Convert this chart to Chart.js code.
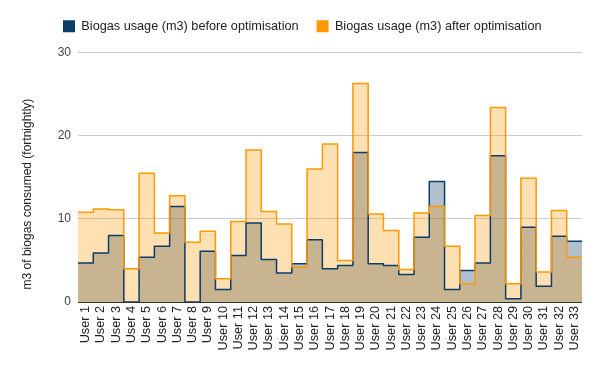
<!doctype html>
<html>
  <head>
    <script src="https://cdn.jsdelivr.net/npm/chart.js@4.4.0/dist/chart.umd.min.js"></script>
    <style>
      body { margin: 0; background: #fff; }
      #wrap { width: 600px; height: 371px; }
    </style>
  </head>
  <body>
    <div id="wrap"><canvas id="BiogasChart" width="600" height="371"></canvas></div>
    <script>
    // values (m3, fortnightly)
    var users = [];
    for (var n = 1; n <= 33; n++) users.push('User ' + n);

    var beforeOpt = [4.7, 5.9, 8.0, 0, 5.4, 6.7, 11.5, 0, 6.1, 1.5, 5.6, 9.5, 5.1, 3.5, 4.6, 7.5, 4.0,
                     4.4, 18.0, 4.6, 4.4, 3.3, 7.8, 14.5, 1.5, 3.8, 4.7, 17.6, 0.4, 9.0, 1.9, 7.9, 7.3];
    var afterOpt = [10.8, 11.2, 11.1, 4.0, 15.5, 8.3, 12.8, 7.2, 8.5, 2.8, 9.7, 18.3, 10.9, 9.4, 4.2, 16.0, 19.0,
                    5.0, 26.3, 10.6, 8.6, 3.9, 10.7, 11.5, 6.7, 2.2, 10.4, 23.4, 2.2, 14.9, 3.6, 11.0, 5.4];
    var yTicks = [0, 10, 20, 30];

    var seriesNames = ['Biogas usage (m3) before optimisation', 'Biogas usage (m3) after optimisation'];
    var solid = ['#0c3c67', '#ff9900'];

    // each user gets a whole step: point i starts the step, one extra point closes the last one
    function steps(vals) {
      var pts = vals.map(function(v, i){ return {x: i, y: v}; });
      pts.push({x: vals.length, y: vals[vals.length - 1]});
      return pts;
    }

    var FONT = 'Arial, "Liberation Sans", sans-serif';

    // legend sits a bit right of the canvas edge and leaves more room above the plot
    var legendTweak = {
      id: 'legendTweak',
      afterInit: function(chart) {
        var lg = chart.legend;
        var fit = lg.fit;
        lg.fit = function() {
          fit.call(this);
          this.height += 10;
        };
      },
      beforeDraw: function(chart) {
        chart.legend.left = 45;
      }
    };

    var ctx = document.getElementById('BiogasChart');
    var myChart = new Chart(ctx, {
      type: 'line',
      data: {
        datasets: [{
          label: seriesNames[0],
          data: steps(beforeOpt),
          borderColor: solid[0],
          backgroundColor: 'rgba(12,60,103,0.32)',
          borderWidth: 1.5,
          fill: 'origin',
          stepped: true,
          pointRadius: 0,
          borderJoinStyle: 'round',
          order: 1
        }, {
          label: seriesNames[1],
          data: steps(afterOpt),
          borderColor: solid[1],
          backgroundColor: 'rgba(255,153,0,0.3)',
          borderWidth: 1.5,
          fill: 'origin',
          stepped: true,
          pointRadius: 0,
          borderJoinStyle: 'round',
          order: 0
        }]
      },
      options: {
        responsive: false,
        animation: false,
        layout: { padding: { left: 0, right: 18, top: 2, bottom: 0 } },
        plugins: {
          filler: { drawTime: 'beforeDatasetsDraw' },
          tooltip: { enabled: false },
          legend: {
            position: 'top',
            align: 'start',
            labels: {
              boxWidth: 12,
              boxHeight: 12,
              padding: 18,
              color: '#222',
              font: { family: FONT, size: 12.7 },
              sort: function(a, b){ return a.datasetIndex - b.datasetIndex; },
              generateLabels: function(chart) {
                var items = Chart.defaults.plugins.legend.labels.generateLabels(chart);
                items.forEach(function(it){
                  it.fillStyle = solid[it.datasetIndex];
                  it.strokeStyle = solid[it.datasetIndex];
                  it.lineWidth = 0;
                });
                return items;
              }
            }
          }
        },
        scales: {
          x: {
            type: 'linear',
            min: 0,
            max: users.length,
            grid: { display: false, drawTicks: false },
            border: { display: false },
            afterFit: function(s){ s.height = 69; },
            afterBuildTicks: function(axis) {
              axis.ticks = users.map(function(u, i){ return {value: i + 0.5}; });
            },
            ticks: {
              autoSkip: false,
              minRotation: 90,
              maxRotation: 90,
              padding: 4,
              color: '#222',
              font: { family: FONT, size: 12.7 },
              callback: function(value) { return users[Math.round(value - 0.5)]; }
            }
          },
          y: {
            min: 0,
            max: 30,
            afterFit: function(s){ s.width = 78; },
            afterBuildTicks: function(axis) {
              axis.ticks = yTicks.map(function(v){ return {value: v}; });
            },
            grid: {
              drawTicks: false,
              color: function(c){ return c.tick && c.tick.value === 0 ? '#333' : '#ccc'; },
              lineWidth: 1
            },
            border: { display: false },
            ticks: {
              padding: 7,
              color: '#444',
              font: { family: FONT, size: 12 }
            },
            title: {
              display: true,
              // trailing spaces push the visible text a little below the axis middle, as in the original
              text: 'm3 of biogas consumed (fortnightly)          ',
              color: '#222',
              padding: { top: 20, bottom: 0 },
              font: { family: FONT, size: 12 }
            }
          }
        }
      },
      plugins: [legendTweak]
    });
    </script>
  </body>
</html>
